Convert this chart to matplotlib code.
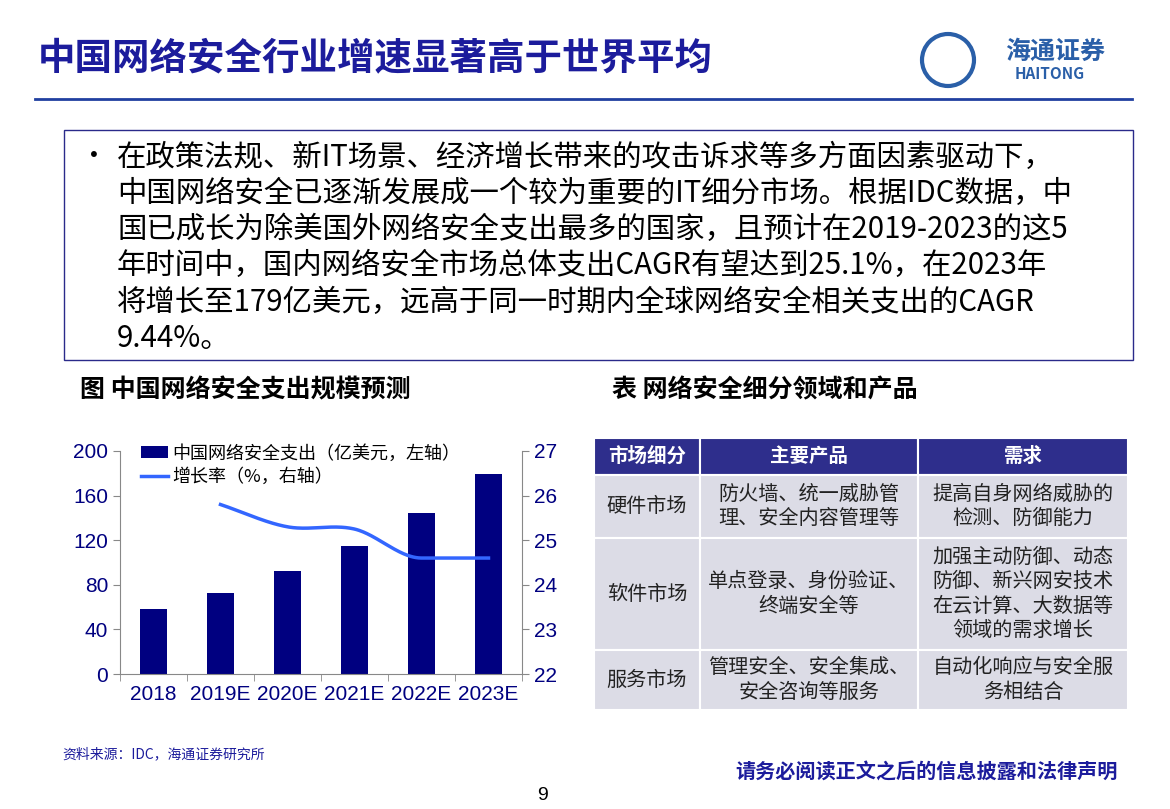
import matplotlib
matplotlib.use("Agg")
import matplotlib.pyplot as plt
from matplotlib.patches import Rectangle, Ellipse
import numpy as np

plt.rcParams['font.family'] = ['Noto Sans CJK SC']

years = ["2018", "2019E", "2020E", "2021E", "2022E", "2023E"]
spend = [58, 73, 92, 115, 144, 179]
growth_years = ["2019E", "2020E", "2021E", "2022E", "2023E"]
growth = [25.8, 25.3, 25.25, 24.6, 24.6]
left_ticks = [0, 40, 80, 120, 160, 200]
right_ticks = [22, 23, 24, 25, 26, 27]

table_header = ["市场细分", "主要产品", "需求"]
table_rows = [
    ["硬件市场", "防火墙、统一威胁管\n理、安全内容管理等", "提高自身网络威胁的\n检测、防御能力"],
    ["软件市场", "单点登录、身份验证、\n终端安全等", "加强主动防御、动态\n防御、新兴网安技术\n在云计算、大数据等\n领域的需求增长"],
    ["服务市场", "管理安全、安全集成、\n安全咨询等服务", "自动化响应与安全服\n务相结合"],
]
bullet_lines = [
    "在政策法规、新IT场景、经济增长带来的攻击诉求等多方面因素驱动下，",
    "中国网络安全已逐渐发展成一个较为重要的IT细分市场。根据IDC数据，中",
    "国已成长为除美国外网络安全支出最多的国家，且预计在2019-2023的这5",
    "年时间中，国内网络安全市场总体支出CAGR有望达到25.1%，在2023年",
    "将增长至179亿美元，远高于同一时期内全球网络安全相关支出的CAGR",
    "9.44%。",
]

W, H = 1170, 809
fig = plt.figure(figsize=(11.7, 8.09), dpi=100)
NAVY = '#000080'
BLUE = '#1c1c9c'

def fx(x): return x / W
def fy(y): return 1 - y / H

# title
fig.text(fx(38), fy(58), "中国网络安全行业增速显著高于世界平均", fontsize=27, fontweight='bold',
         color=BLUE, va='center')
fig.add_artist(plt.Line2D([fx(35), fx(1132)], [fy(99), fy(99)], color='#2040a0', lw=2))
# logo
fig.add_artist(Ellipse((fx(948), fy(60)), 52 / W, 52 / H, transform=fig.transFigure, fill=False,
                       ec='#2a5fa8', lw=3))
fig.text(fx(1055), fy(52), "海通证券", fontsize=18, color='#2a5fa8', ha='center', va='center', fontweight='bold')
fig.text(fx(1050), fy(74), "HAITONG", fontsize=11, color='#2a5fa8', ha='center', va='center', fontweight='bold')

# text box
fig.add_artist(Rectangle((fx(64), fy(360)), fx(1133 - 64), (360 - 130) / H,
                         transform=fig.transFigure, fill=False, ec='#2a2a8a', lw=1))
fig.text(fx(80), fy(157), "•", fontsize=20, va='center', color='black')
for i, line in enumerate(bullet_lines):
    fig.text(fx(117), fy(157 + 36.3 * i), line, fontsize=21.2, va='center', color='black')

fig.text(fx(80), fy(390), "图 中国网络安全支出规模预测", fontsize=18, fontweight='bold', va='center')
fig.text(fx(612), fy(390), "表 网络安全细分领域和产品", fontsize=18, fontweight='bold', va='center')

# chart
ax = fig.add_axes([fx(120), fy(674), fx(522 - 120), (674 - 451) / H])
x = np.arange(len(years))
ax.bar(x, spend, width=0.4, color=NAVY, label="中国网络安全支出（亿美元，左轴）")
ax.set_ylim(0, 200)
ax.set_yticks(left_ticks)
ax.set_xlim(-0.5, len(years) - 0.5)
ax.set_xticks(x)
ax.set_xticklabels(years)
ax.set_xticks(np.arange(-0.5, len(years), 1), minor=True)
ax.tick_params(axis='x', which='major', length=0, labelsize=15, colors=NAVY, pad=8)
ax.tick_params(axis='x', which='minor', length=5, color='#888888')
ax.tick_params(axis='y', labelsize=15, colors=NAVY, length=5, color='#888888')
for lab in ax.get_xticklabels() + ax.get_yticklabels():
    lab.set_fontfamily('Liberation Sans')
for s in ['top', 'right']:
    ax.spines[s].set_visible(False)
for s in ['left', 'bottom']:
    ax.spines[s].set_color('#888888')
ax2 = ax.twinx()
gx = np.array([years.index(g) for g in growth_years], dtype=float)
xs = np.linspace(gx[0], gx[-1], 200)
m = np.zeros(len(gx))
d = np.diff(growth)
for i in range(1, len(gx) - 1):
    m[i] = 0 if d[i - 1] * d[i] <= 0 else (d[i - 1] + d[i]) / 2
m[0], m[-1] = d[0], 0
ys = np.empty_like(xs)
for k, xv in enumerate(xs):
    i = min(int(xv - gx[0]), len(gx) - 2)
    t = xv - gx[i]
    h00 = 2*t**3 - 3*t**2 + 1; h10 = t**3 - 2*t**2 + t; h01 = -2*t**3 + 3*t**2; h11 = t**3 - t**2
    ys[k] = h00*growth[i] + h10*m[i] + h01*growth[i+1] + h11*m[i+1]
ax2.plot(xs, ys, color='#3366ff', lw=2.5, label="增长率（%，右轴）")
ax2.set_ylim(22, 27)
ax2.set_yticks(right_ticks)
ax2.tick_params(axis='y', labelsize=15, colors=NAVY, length=5, color='#888888')
for lab in ax2.get_yticklabels():
    lab.set_fontfamily('Liberation Sans')
for s in ['top', 'left', 'bottom']:
    ax2.spines[s].set_visible(False)
ax2.spines['right'].set_color('#888888')
h1, l1 = ax.get_legend_handles_labels()
h2, l2 = ax2.get_legend_handles_labels()
ax2.legend(h1 + h2, l1 + l2, loc='upper left', bbox_to_anchor=(0.03, 1.07), frameon=False,
           fontsize=13, handlelength=1.5, handletextpad=0.2, labelspacing=0.3, borderpad=0)

# table
cols = [594, 700, 918, 1128]
rows = [438, 475, 538, 650, 710]
for j in range(3):
    fig.add_artist(Rectangle((fx(cols[j]), fy(rows[1])), fx(cols[j+1] - cols[j]), (rows[1]-rows[0]) / H,
                             transform=fig.transFigure, fc='#2e2e8c', ec='white', lw=1.5))
    fig.text(fx((cols[j] + cols[j+1]) / 2), fy((rows[0] + rows[1]) / 2), table_header[j],
             fontsize=14, color='white', ha='center', va='center', fontweight='bold')
for i, row in enumerate(table_rows):
    for j in range(3):
        fig.add_artist(Rectangle((fx(cols[j]), fy(rows[i+2])), fx(cols[j+1] - cols[j]),
                                 (rows[i+2] - rows[i+1]) / H, transform=fig.transFigure,
                                 fc='#dcdce6', ec='white', lw=1.5))
        fig.text(fx((cols[j] + cols[j+1]) / 2), fy((rows[i+1] + rows[i+2]) / 2), row[j],
                 fontsize=14.5, color='#222222', ha='center', va='center', linespacing=1.2)

fig.text(fx(62), fy(754), "资料来源：IDC，海通证券研究所", fontsize=10, color='#1c1c9c', va='center')
fig.text(fx(1118), fy(772), "请务必阅读正文之后的信息披露和法律声明", fontsize=14.5, color=BLUE,
         ha='right', va='center', fontweight='bold')
fig.text(fx(542), fy(796), "9", fontsize=14, ha='center', va='center', fontfamily='Liberation Sans')

fig.savefig("out.png", dpi=100)
